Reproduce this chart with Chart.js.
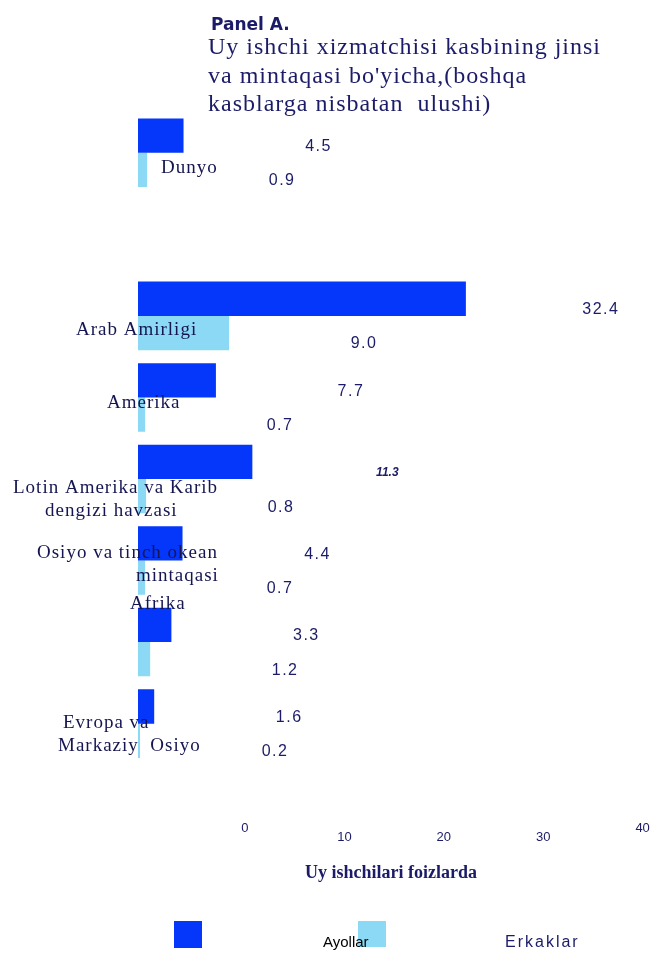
<!DOCTYPE html>
<html>
<head>
<meta charset="utf-8">
<script src="https://cdn.jsdelivr.net/npm/chart.js@4.4.1/dist/chart.umd.min.js"></script>
<style>
  body { margin: 0; background: #fff; }
  #wrap { position: relative; width: 651px; height: 953px; }
</style>
</head>
<body>
<div id="wrap"><canvas id="chart"></canvas></div>
<script>
// data; '' is the empty row between Dunyo and the regions
const categories = [
  'Dunyo',
  '',
  'Arab Amirligi',
  'Amerika',
  ['Lotin Amerika va Karib', 'dengizi havzasi'],
  ['Osiyo va tinch okean', 'mintaqasi'],
  'Afrika',
  ['Evropa va', 'Markaziy  Osiyo']
];
const ayollar = [4.5, null, 32.4, 7.7, 11.3, 4.4, 3.3, 1.6];
const erkaklar = [0.9, null, 9.0, 0.7, 0.8, 0.7, 1.2, 0.2];
const seriesNames = ['Ayollar', 'Erkaklar'];
const tickValues = [0, 10, 20, 30, 40];
const raisedTicks = [0, 40];
const panelLabel = 'Panel A.';
const titleLines = [
  'Uy ishchi xizmatchisi kasbining jinsi',
  "va mintaqasi bo'yicha,(boshqa",
  'kasblarga nisbatan  ulushi)'
];
const axisTitle = 'Uy ishchilari foizlarda';

const navy = '#1b1b68';
const darkBlue = '#0537fb';
const lightBlue = '#8bd9f4';

// where each category name sits: left x of every line, y shift from the row centre
const catLabelPlace = [
  { x: [161], dy: 15 },
  null,
  { x: [76], dy: 14 },
  { x: [107], dy: 6 },
  { x: [13, 45], dy: 9 },
  { x: [37, 136], dy: -8 },
  { x: [130], dy: -38 },
  { x: [63, 58], dy: -1 }
];

const titleText = {
  id: 'titleText',
  afterDraw(chart) {
    const ctx = chart.ctx;
    ctx.save();
    ctx.fillStyle = navy;
    ctx.textBaseline = 'alphabetic';
    ctx.font = 'bold 17px "DejaVu Sans"';
    ctx.fillText(panelLabel, 211, 30);
    ctx.font = '24px "Liberation Serif"';
    ctx.letterSpacing = '1px';
    titleLines.forEach((line, i) => ctx.fillText(line, 208, 54 + i * 28.5));
    ctx.restore();
  }
};

const categoryNames = {
  id: 'categoryNames',
  afterDatasetsDraw(chart) {
    const ctx = chart.ctx;
    const yScale = chart.scales.y;
    ctx.save();
    ctx.fillStyle = '#151552';
    ctx.font = '19px "Liberation Serif"';
    ctx.letterSpacing = '1px';
    ctx.textBaseline = 'middle';
    ctx.textAlign = 'left';
    chart.data.labels.forEach((label, i) => {
      const place = catLabelPlace[i];
      if (!place) return;
      const lines = Array.isArray(label) ? label : [label];
      const yc = yScale.getPixelForValue(i);
      lines.forEach((line, j) => {
        ctx.fillText(line, place.x[j], yc + place.dy + j * 23);
      });
    });
    ctx.restore();
  }
};

const valueLabels = {
  id: 'valueLabels',
  afterDatasetsDraw(chart, args, opts) {
    const ctx = chart.ctx;
    ctx.save();
    ctx.fillStyle = navy;
    ctx.textAlign = 'center';
    ctx.textBaseline = 'middle';
    chart.data.datasets.forEach((ds, di) => {
      chart.getDatasetMeta(di).data.forEach((bar, i) => {
        const v = ds.data[i];
        if (v == null) return;
        const special = opts.emphasis.dataset === di && opts.emphasis.index === i;
        ctx.font = special ? opts.emphasis.font : opts.font;
        ctx.letterSpacing = special ? '0px' : '1.5px';
        ctx.fillText(v.toFixed(1), bar.x + opts.dx, bar.y + opts.dy);
      });
    });
    ctx.restore();
  }
};

const legendBoxes = {
  id: 'legendBoxes',
  afterDraw(chart, args, opts) {
    const ctx = chart.ctx;
    const sets = chart.data.datasets;
    ctx.save();
    opts.items.forEach((item, i) => {
      ctx.fillStyle = sets[i].backgroundColor;
      ctx.fillRect(item.box[0], item.box[1], item.box[2], item.box[3]);
    });
    ctx.textBaseline = 'middle';
    opts.items.forEach((item, i) => {
      ctx.fillStyle = item.color;
      ctx.font = item.font;
      ctx.letterSpacing = item.spacing;
      ctx.fillText(sets[i].label, item.text[0], item.text[1]);
    });
    ctx.restore();
  }
};

new Chart(document.getElementById('chart'), {
  type: 'bar',
  data: {
    labels: categories,
    datasets: [
      { label: seriesNames[0], data: ayollar, backgroundColor: darkBlue },
      { label: seriesNames[1], data: erkaklar, backgroundColor: lightBlue }
    ]
  },
  options: {
    indexAxis: 'y',
    responsive: true,
    maintainAspectRatio: false,
    animation: false,
    datasets: { bar: { categoryPercentage: 0.84, barPercentage: 1 } },
    layout: { padding: { top: 112, left: 138, right: 7, bottom: 69 } },
    plugins: {
      legend: { display: false },
      tooltip: { enabled: false },
      valueLabels: {
        dx: 135,
        dy: 11,
        font: '16px "Liberation Sans"',
        emphasis: { dataset: 0, index: 4, font: 'italic bold 12px "Liberation Sans"' }
      },
      legendBoxes: {
        items: [
          { box: [174, 921, 28, 27], text: [323, 943], font: '15px "Liberation Sans"', color: '#000', spacing: '0px' },
          { box: [358, 921, 28, 26], text: [505, 943], font: '16px "Liberation Sans"', color: navy, spacing: '2px' }
        ]
      }
    },
    scales: {
      y: { display: false },
      x: { display: false, min: 0, max: 50 },
      // the printed tick labels do not line up with the bars in the original
      xt: {
        type: 'linear',
        position: 'bottom',
        min: -10.76,
        max: 40.14,
        grid: { display: false, drawTicks: true, tickLength: 60 },
        border: { display: false },
        afterBuildTicks: s => { s.ticks = tickValues.map(v => ({ value: v })); },
        ticks: {
          autoSkip: false,
          maxRotation: 0,
          padding: 0,
          color: navy,
          font: { family: 'Liberation Sans', size: 13, lineHeight: '9px' },
          // 10, 20, 30 sit one short line lower than 0 and 40
          callback: v => raisedTicks.includes(v) ? String(v) : ['', String(v)]
        },
        title: {
          display: true,
          text: axisTitle,
          color: navy,
          font: { family: 'Liberation Serif', size: 18, weight: 'bold' },
          padding: { top: 20, bottom: 0 }
        }
      }
    }
  },
  plugins: [titleText, categoryNames, valueLabels, legendBoxes]
});
</script>
</body>
</html>
